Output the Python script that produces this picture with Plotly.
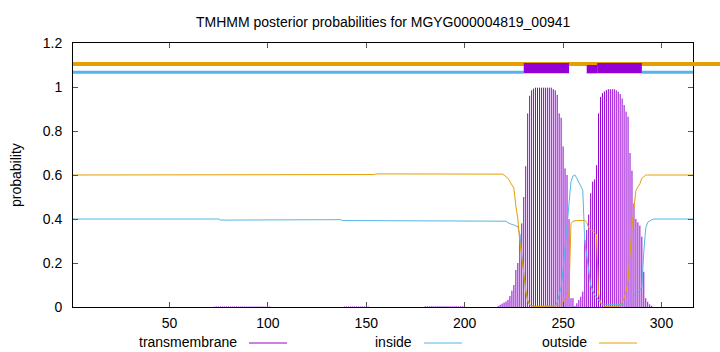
import plotly.graph_objects as go

# ---------------- data ----------------
residue = list(range(1, 317))

inside = ([0.400] * 75 + [0.395] * 21 + [0.397] * 41 + [0.393] * 41 + [0.390] * 16 + [0.393] * 25 +
          [0.392, 0.390, 0.383, 0.377, 0.375, 0.373, 0.370, 0.365, 0.330, 0.240,
           0.130, 0.070, 0.030, 0.010, 0.005] +
          [0.003] * 11 +
          [0.005, 0.020, 0.050, 0.090, 0.170, 0.270, 0.380, 0.480, 0.570, 0.595,
           0.600, 0.585, 0.565, 0.550, 0.530, 0.300, 0.230, 0.150, 0.100, 0.075,
           0.055, 0.045, 0.030, 0.020, 0.015] +
          [0.010] * 10 +
          [0.012, 0.015, 0.020, 0.030, 0.040, 0.055, 0.062, 0.065, 0.075, 0.090,
           0.250, 0.360, 0.385, 0.392, 0.396] +
          [0.400] * 21)

outside = ([0.600] * 96 + [0.602] * 58 + [0.605] * 24 + [0.604] * 41 +
           [0.600, 0.592, 0.585, 0.570, 0.555, 0.540, 0.460, 0.400, 0.300, 0.220,
            0.130, 0.080, 0.030, 0.010, 0.005] +
           [0.002] * 12 +
           [0.005, 0.010, 0.015, 0.020, 0.030, 0.040, 0.060, 0.380, 0.390] +
           [0.393] * 6 +
           [0.385, 0.360, 0.350, 0.345, 0.340, 0.330, 0.060, 0.020, 0.008] +
           [0.003] * 8 +
           [0.010, 0.020, 0.040, 0.070, 0.120, 0.250, 0.360, 0.450, 0.530, 0.545,
            0.560, 0.585, 0.595] +
           [0.600] * 25)

transmembrane = ([0.0] * 72 + [0.002] * 29 + [0.0] * 37 + [0.002] * 13 + [0.0] * 28 +
                 [0.003] * 20 + [0.0] * 17 +
                 [0.005, 0.010, 0.015, 0.020, 0.025, 0.032, 0.050, 0.074, 0.100, 0.168,
                  0.200, 0.330, 0.380, 0.500, 0.640, 0.880, 0.960, 0.985, 0.993] +
                 [0.997] * 9 +
                 [0.990, 0.985, 0.964, 0.880, 0.860, 0.730, 0.630, 0.600, 0.400, 0.040,
                  0.040, 0.005, 0.017, 0.032, 0.047, 0.070, 0.305, 0.350, 0.420, 0.517,
                  0.570, 0.580, 0.645, 0.880, 0.955, 0.972, 0.980, 0.986] +
                 [0.990] * 4 +
                 [0.985, 0.979, 0.968, 0.948, 0.918, 0.888, 0.865, 0.700, 0.620, 0.470,
                  0.400, 0.385, 0.370, 0.320, 0.160, 0.040, 0.024, 0.012, 0.005] +
                 [0.0] * 21)

# predicted topology (top bars)
tm_start = [230, 262]
tm_end = [253, 290]
tm_low_end = [230, 267.3]          # first part of 2nd segment drawn slightly lower
inside_seg_start = [1, 290]
inside_seg_end = [230, 316]
outside_level = 1.105
inside_level = 1.067

x_ticks = [50, 100, 150, 200, 250, 300]
title = "TMHMM posterior probabilities for MGYG000004819_00941"
legend_names = ["transmembrane", "inside", "outside"]

C_TM = "#9400D3"
C_IN = "#56B4E9"
C_OUT = "#E69F00"
FONT = "Liberation Sans"
FS = 14

# ---------------- figure ----------------
ix, iy = [], []
for r, v in zip(residue, transmembrane):
    if v > 0:
        ix += [r, r, None]
        iy += [0, v, None]

fig = go.Figure()
fig.add_trace(go.Scatter(x=ix, y=iy, mode="lines", line=dict(color=C_TM, width=1),
                         name=legend_names[0], hoverinfo="skip"))
fig.add_trace(go.Scatter(x=residue, y=inside, mode="lines", line=dict(color=C_IN, width=1),
                         name=legend_names[1]))
fig.add_trace(go.Scatter(x=residue, y=outside, mode="lines", line=dict(color=C_OUT, width=1),
                         name=legend_names[2]))

shapes = []
shapes.append(dict(type="line", xref="paper", yref="y", x0=0, x1=1.2,
                   y0=outside_level, y1=outside_level, line=dict(color=C_OUT, width=4)))
for s, e in zip(inside_seg_start, inside_seg_end):
    shapes.append(dict(type="line", xref="x", yref="y", x0=s, x1=e,
                       y0=inside_level, y1=inside_level, line=dict(color=C_IN, width=3)))
for s, e, le in zip(tm_start, tm_end, tm_low_end):
    if le > s:
        shapes.append(dict(type="rect", xref="x", yref="y", x0=s, x1=le, y0=1.062, y1=1.100,
                           fillcolor=C_TM, line=dict(width=0)))
    shapes.append(dict(type="rect", xref="x", yref="y", x0=le, x1=e, y0=1.062, y1=1.109,
                       fillcolor=C_TM, line=dict(width=0)))

L, R, T, B = 73, 27, 43, 45
W, H = 720, 352
pw, ph = W - L - R, H - T - B
def px2x(px):
    return (px - L) / pw
def py2y(py):
    return (H - B - py) / ph

annotations = []
leg_text_right = [239, 414, 589]
leg_colors = [C_TM, C_IN, C_OUT]
leg_y = 342
for name, xr, c in zip(legend_names, leg_text_right, leg_colors):
    annotations.append(dict(text=name, xref="paper", yref="paper", x=px2x(xr), y=py2y(leg_y),
                            xanchor="right", yanchor="middle", showarrow=False,
                            font=dict(family=FONT, size=FS, color="black")))
    shapes.append(dict(type="line", xref="paper", yref="paper", x0=px2x(xr + 10), x1=px2x(xr + 48),
                       y0=py2y(leg_y + 1), y1=py2y(leg_y + 1), line=dict(color=c, width=1)))

annotations.append(dict(text="probability", xref="paper", yref="paper", x=px2x(16), y=0.5,
                        textangle=-90, xanchor="center", yanchor="middle", showarrow=False,
                        font=dict(family=FONT, size=FS, color="black")))
annotations.append(dict(text=title, xref="paper", yref="paper", x=0.5, y=py2y(22),
                        xanchor="center", yanchor="middle", showarrow=False,
                        font=dict(family=FONT, size=FS, color="black")))

axis_common = dict(showgrid=False, zeroline=False, showline=True, linecolor="black", linewidth=1,
                   mirror="ticks", ticks="inside", ticklen=5, tickcolor="#555", tickwidth=1,
                   tickfont=dict(family=FONT, size=FS, color="black"))

fig.update_layout(
    width=W, height=H, margin=dict(l=L, r=R, t=T, b=B),
    paper_bgcolor="white", plot_bgcolor="white", showlegend=False,
    xaxis=dict(range=[1, 316], tickvals=x_ticks, ticklabelstandoff=3, **axis_common),
    yaxis=dict(range=[0, 1.2], dtick=0.2, tick0=0, ticklabelstandoff=7, **axis_common),
    shapes=shapes, annotations=annotations,
    font=dict(family=FONT, size=FS, color="black"),
)

fig.write_html("out.html")
